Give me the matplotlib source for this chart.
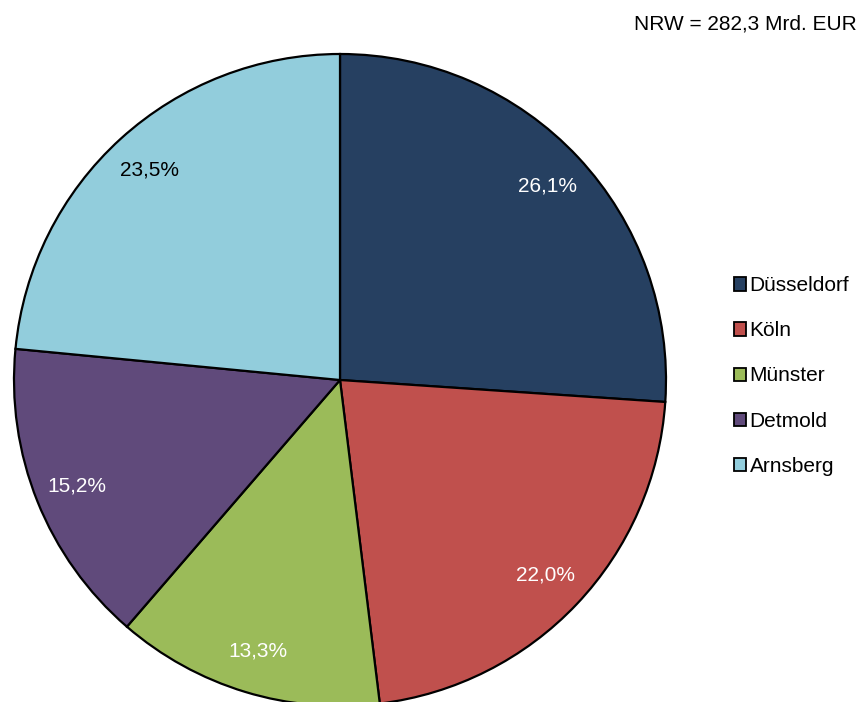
import matplotlib
matplotlib.use("Agg")
import matplotlib.pyplot as plt
from matplotlib.patches import Patch

plt.rcParams['font.family'] = ['Liberation Sans', 'DejaVu Sans']

regions = ["Düsseldorf", "Köln", "Münster", "Detmold", "Arnsberg"]
shares = [26.1, 22.0, 13.3, 15.2, 23.5]
colors = ["#264061", "#C0504D", "#9BBB59", "#604A7B", "#92CDDC"]
label_colors = ["white", "white", "white", "white", "black"]
total_text = "NRW = 282,3 Mrd. EUR"

W, H = 862, 702
fig = plt.figure(figsize=(W / 100, H / 100), dpi=100)
ax = fig.add_axes([0, 0, 1, 1])

cx, cy, R = 340, 380, 326
wedges, texts, autotexts = ax.pie(
    shares, colors=colors, startangle=90, counterclock=False,
    autopct='%1.1f', pctdistance=0.87, radius=1,
    wedgeprops=dict(edgecolor='black', linewidth=1.6),
    textprops=dict(fontsize=15))
for t, v, c in zip(autotexts, shares, label_colors):
    t.set_text(f"{v:.1f}%".replace('.', ','))
    t.set_color(c)

ax.set_aspect('auto')
ax.set_xlim(-cx / R, (W - cx) / R)
ax.set_ylim(-(H - cy) / R, cy / R)
ax.axis('off')

handles = [Patch(facecolor=c, edgecolor='black', linewidth=1.3) for c in colors]
fig.legend(handles, regions, loc='center left', bbox_to_anchor=(734 / W, 1 - 376 / H),
           frameon=False, fontsize=15, handlelength=0.6, handleheight=0.6,
           handletextpad=0.15, labelspacing=1.25, borderpad=0, borderaxespad=0)

fig.text(857 / W, 1 - 29 / H, total_text, ha='right', va='baseline', fontsize=15)

fig.savefig("out.png", dpi=100)
